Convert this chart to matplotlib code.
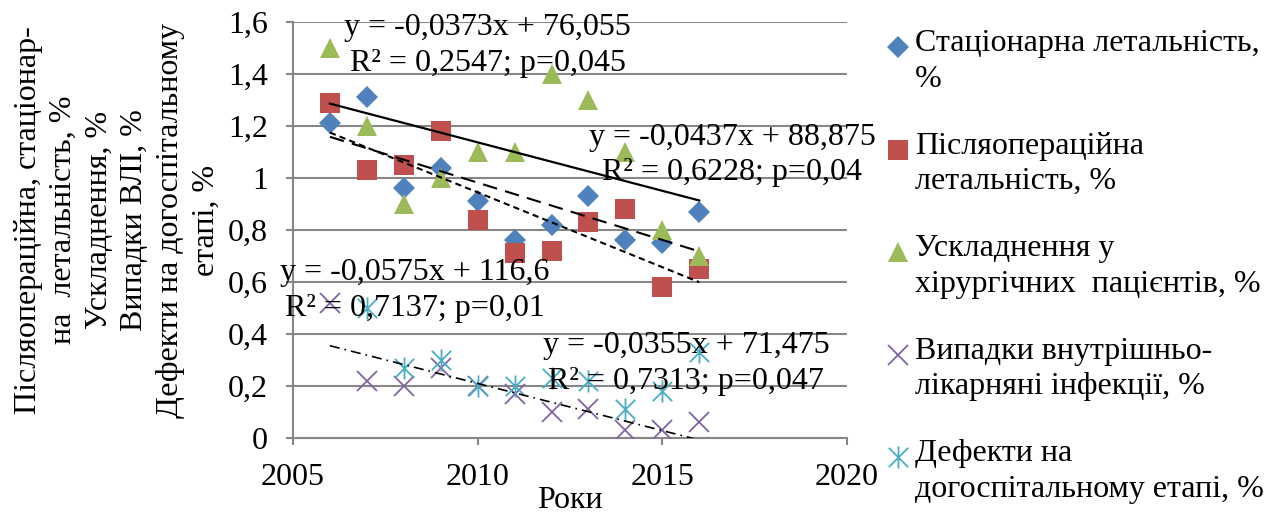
import numpy as np
import matplotlib
matplotlib.use('Agg')
import matplotlib.pyplot as plt
from matplotlib.lines import Line2D
from matplotlib.path import Path
from matplotlib.ticker import FuncFormatter, MultipleLocator

plt.rcParams['font.family'] = 'serif'
plt.rcParams['font.serif'] = ['Liberation Serif', 'DejaVu Serif']
plt.rcParams['font.size'] = 23

years = np.arange(2006, 2017)
stat_mort = [1.21, 1.31, 0.96, 1.04, 0.91, 0.76, 0.82, 0.93, 0.76, 0.75, 0.87]
postop_mort = [1.29, 1.03, 1.05, 1.18, 0.84, 0.71, 0.72, 0.83, 0.88, 0.58, 0.65]
complications = [1.50, 1.20, 0.90, 1.00, 1.10, 1.10, 1.40, 1.30, 1.10, 0.80, 0.70]
infections = [0.52, 0.22, 0.20, 0.27, 0.20, 0.17, 0.10, 0.11, 0.03, 0.03, 0.06]
prehosp_defects = [np.nan, 0.50, 0.27, 0.30, 0.20, 0.20, 0.23, 0.22, 0.11, 0.18, 0.33]

series_labels = [
    "Стаціонарна летальність,\n%",
    "Післяопераційна\nлетальність, %",
    "Ускладнення у\nхірургічних  пацієнтів, %",
    "Випадки внутрішньо-\nлікарняні інфекції, %",
    "Дефекти на\nдогоспітальному етапі, %",
]

eq_complications = "y = -0,0373x + 76,055\nR² = 0,2547; p=0,045"
eq_stat = "y = -0,0437x + 88,875\nR² = 0,6228; p=0,04"
eq_postop = "y = -0,0575x + 116,6\nR² = 0,7137; p=0,01"
eq_infections = "y = -0,0355x + 71,475\nR² = 0,7313; p=0,047"

# asterisk marker: an "x" crossed by a vertical stroke
star = Path([(-1, -1), (1, 1), (-1, 1), (1, -1), (0, -1.15), (0, 1.15)],
            [Path.MOVETO, Path.LINETO, Path.MOVETO, Path.LINETO, Path.MOVETO, Path.LINETO])

styles = [
    dict(marker='D', color='#4F81BD', ms=11, mew=0),
    dict(marker='s', color='#C0504D', ms=14, mew=0),
    dict(marker='^', color='#9BBB59', ms=15, mew=0),
    dict(marker='x', color='#8064A2', ms=14, mew=1.3),
    dict(marker=star, color='#4BACC6', ms=16, mew=1.3),
]
data = [stat_mort, postop_mort, complications, infections, prehosp_defects]

fig = plt.figure(figsize=(12.7, 5.13), dpi=100)
ax = fig.add_axes([0.2307, 0.1462, 0.4362, 0.8108])

for vals, st in zip(data, styles):
    ax.plot(years, vals, linestyle='none', zorder=3, **st)

# linear trends
def trend(vals, **kw):
    v = np.array(vals, dtype=float)
    ok = ~np.isnan(v)
    k, b = np.polyfit(years[ok], v[ok], 1)
    xs = np.array([years[0], years[-1]])
    ax.plot(xs, k * xs + b, color='black', zorder=4, **kw)

trend(complications, lw=1.6, linestyle='-')
trend(stat_mort, lw=1.5, dashes=(7, 4))
trend(postop_mort, lw=1.5, dashes=(3, 2))
trend(infections, lw=1.2, dashes=(6, 3, 1, 3))

eq_kw = dict(ha='center', va='center', multialignment='center', zorder=5, linespacing=1.3)
ax.text(2010.27, 1.51, eq_complications, **eq_kw)
ax.text(2016.9, 1.088, eq_stat, **eq_kw)
ax.text(2008.3, 0.568, eq_postop, **eq_kw)
ax.text(2015.65, 0.286, eq_infections, **eq_kw)

grey = '#878787'
ax.set_xlim(2005, 2020)
ax.set_ylim(0, 1.6)
ax.xaxis.set_major_locator(MultipleLocator(5))
ax.yaxis.set_major_locator(MultipleLocator(0.2))
ax.yaxis.set_major_formatter(FuncFormatter(lambda v, p: f"{v:.1f}".rstrip('0').rstrip('.').replace('.', ',')))
ax.yaxis.grid(True, color=grey, lw=1.5)
ax.set_axisbelow(True)
for s in ['top', 'right']:
    ax.spines[s].set_visible(False)
for s in ['left', 'bottom']:
    ax.spines[s].set_color(grey)
    ax.spines[s].set_linewidth(1.5)
ax.tick_params(direction='out', length=5, width=1.5, color=grey, pad=13)
ax.set_xlabel("Роки", labelpad=-4)

fig.text(117 / 1270, 1 - 220 / 513,
         "Післяопераційна, стаціонар-\nна  летальність, %\nУскладнення, %\nВипадки ВЛІ, %\n"
         "Дефекти на догоспітальному\nетапі, %",
         rotation=90, ha='center', va='center', multialignment='center', linespacing=1.3)

# legend on the right, marker next to the first line of each entry
for i, (lab, st) in enumerate(zip(series_labels, styles)):
    y = 1 - (47 + 102.5 * i) / 513
    fig.add_artist(Line2D([898 / 1270], [y], linestyle='none', transform=fig.transFigure, **st))
    fig.text(915 / 1270, y + 18 / 513, lab, ha='left', va='top', linespacing=1.3)

fig.savefig('out.png', dpi=100)
